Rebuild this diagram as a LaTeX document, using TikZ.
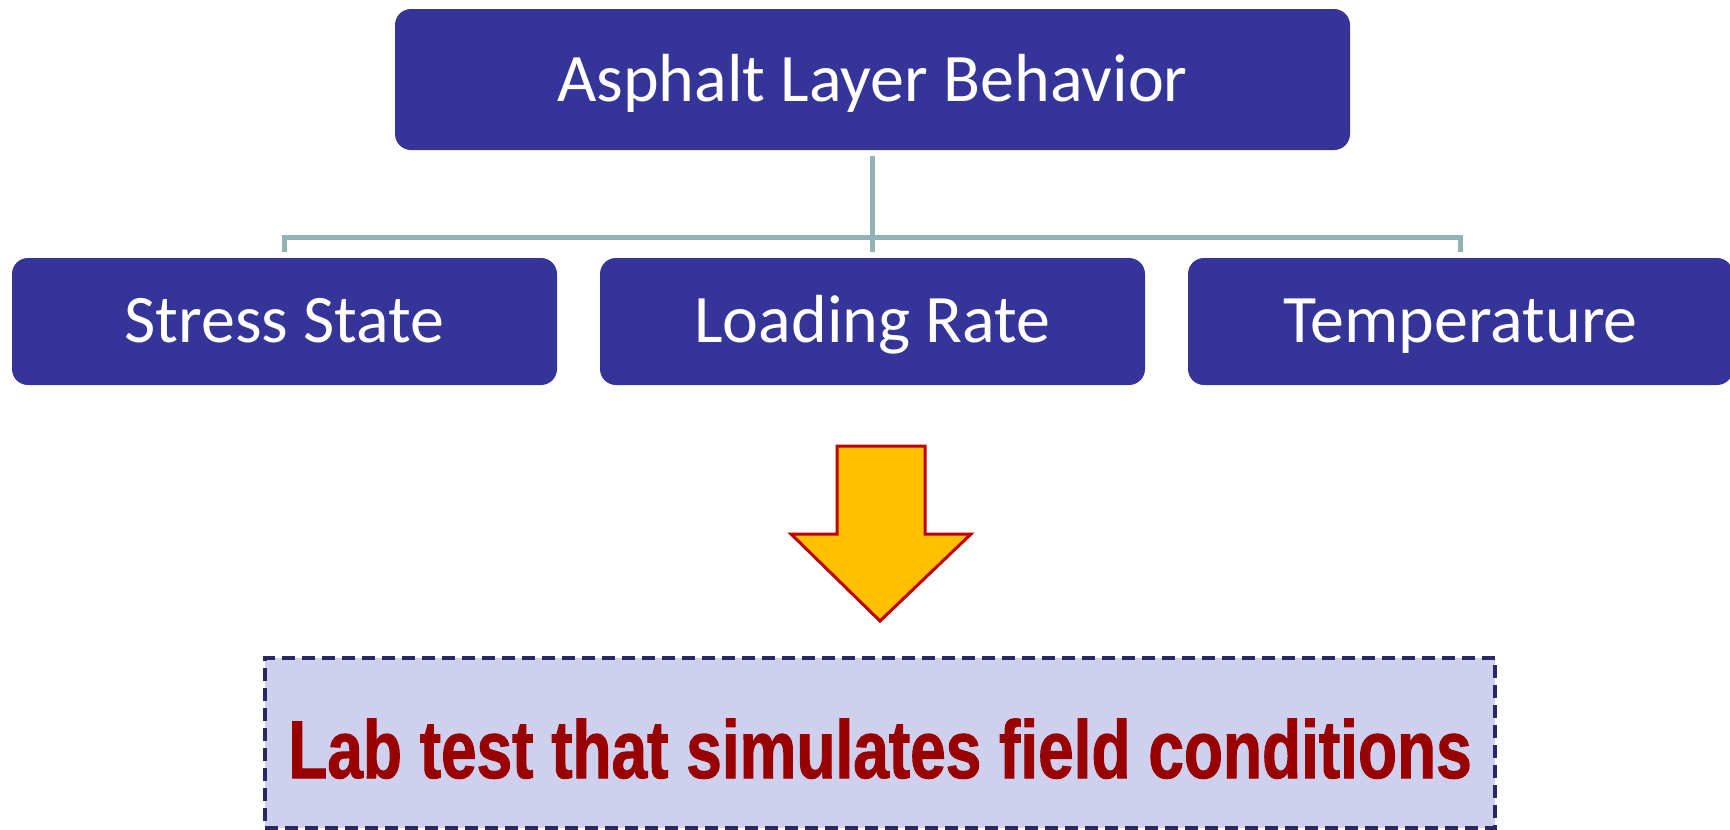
\documentclass[tikz,border=0pt]{standalone}
\usepackage{fontspec}
\setmainfont{Carlito}
\newfontfamily\labfont[FakeStretch=0.78,FakeBold=1.2]{Liberation Sans}

\definecolor{boxblue}{RGB}{53,53,153}
\definecolor{linkgray}{RGB}{147,178,181}
\definecolor{arrowgold}{RGB}{255,192,0}
\definecolor{arrowred}{RGB}{192,0,0}
\definecolor{labfill}{RGB}{207,207,238}
\definecolor{labedge}{RGB}{40,40,100}
\definecolor{labtext}{RGB}{153,0,0}

\tikzset{
  topbox/.style={fill=boxblue, text=white, rounded corners=16pt, inner sep=0pt,
    minimum width=955pt, minimum height=141pt, text height=44pt, text depth=0pt,
    font=\fontsize{68}{80}\selectfont},
  factor/.style={topbox, minimum width=545pt, minimum height=127pt, text height=41pt},
  link/.style={linkgray, line width=5pt},
  bigarrow/.style={fill=arrowgold, draw=arrowred, line width=3pt},
  labbox/.style={draw=labedge, fill=labfill, line width=3.5pt, dash pattern=on 13pt off 7pt,
    minimum width=1230pt, minimum height=170pt, inner sep=0pt, text=labtext,
    text height=70pt, text depth=0pt,
    font=\labfont\bfseries\fontsize{82}{90}\selectfont}
}

\begin{document}
\begin{tikzpicture}[x=1pt, y=-1pt]
  \useasboundingbox (0,0) rectangle (1730,830);

  \node[topbox] (behavior) at (872.5, 79.5) {Asphalt Layer Behavior};

  \node[factor] (stress) at (284.5, 321.5) {Stress State};
  \node[factor] (rate) at (872.5, 321.5) {Loading Rate};
  \node[factor] (temp) at (1460.5, 321.5) {Temperature};

  % org chart lines
  \coordinate (bus) at (872.5, 237);
  \draw[link] ([yshift=-6pt]behavior.south) -- ([yshift=6pt]rate.north);
  \draw[link] ([yshift=6pt]stress.north) |- (bus) -| ([yshift=6pt]temp.north);

  \filldraw[bigarrow] (837,446) -- (925,446) -- (925,534) -- (971,534) -- (880,621)
    -- (791,534) -- (837,534) -- cycle;

  \node[labbox] (lab) at (880, 743) {Lab test that simulates field conditions};
\end{tikzpicture}
\end{document}
